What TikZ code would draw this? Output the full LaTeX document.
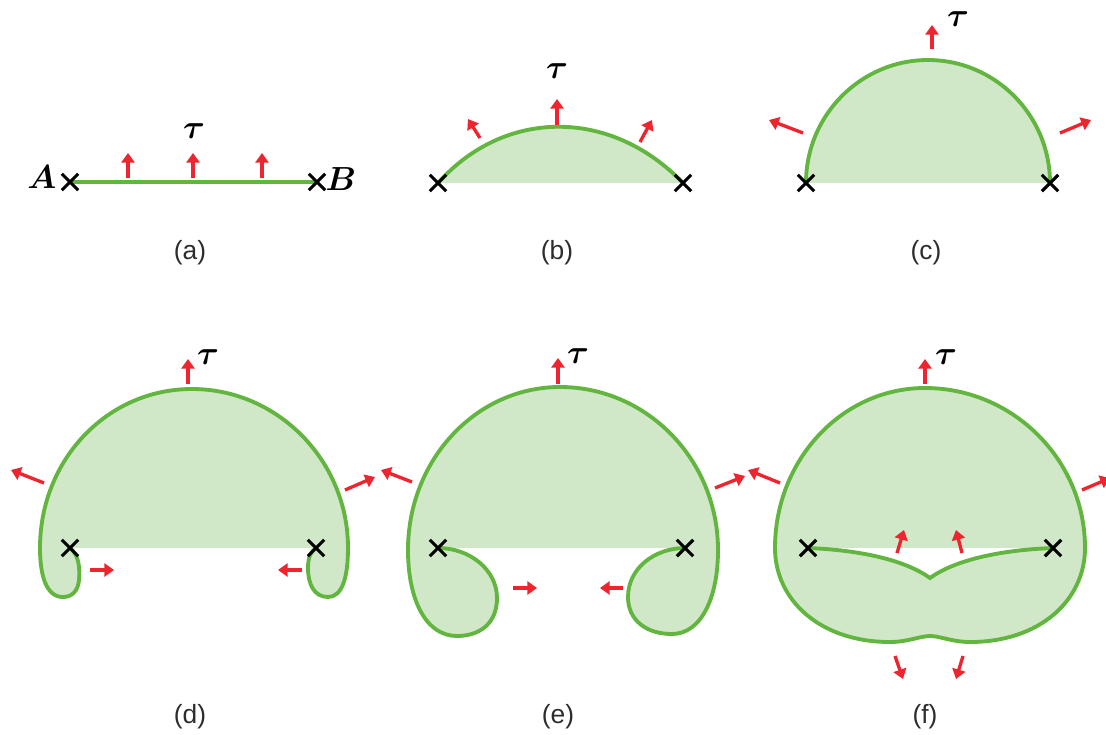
\RequirePackage{fix-cm}
\documentclass[tikz,border=0pt]{standalone}
\usepackage{amsmath,amssymb}
\usepackage{fontspec}
\setsansfont{Liberation Sans}
\usepackage{tikz}
\usetikzlibrary{arrows,arrows.meta,shapes.misc}

\definecolor{filmgreen}{RGB}{98,182,64}
\definecolor{filmfill}{RGB}{208,232,200}
\definecolor{forcered}{RGB}{238,36,46}
\definecolor{captext}{RGB}{45,45,45}

\tikzset{
  film/.style={draw=filmgreen, line width=2.2pt, fill=filmfill},
  force/.style={draw=forcered, line width=1.9pt, -{Triangle[length=5.5pt,width=7.5pt]}},
  pinpt/.style={cross out, draw=black, line width=1.8pt, minimum size=7.5pt, inner sep=0pt},
  tag/.style={text=captext, font=\sffamily\fontsize{15}{18}\selectfont},
  sym/.style={font=\fontsize{19}{22}\selectfont}
}

\begin{document}
\begin{tikzpicture}[x=0.02cm,y=-0.02cm]
\useasboundingbox (0,0) rectangle (1106,734);

% (a) flat film
\coordinate (aL) at (70,182);
\coordinate (aR) at (317,182);
\draw[filmgreen, line width=2.8pt] (aL) -- (aR);
\node[pinpt] (aA) at (aL) {};
\node[pinpt] (aB) at (aR) {};
\node[sym] (labA) at (42,177) {$\boldsymbol{A}$};
\node[sym] (labB) at (341,179) {$\boldsymbol{B}$};
\node[sym] (tauA) at (194,131) {$\boldsymbol{\tau}$};
\draw[force] (128,178) -- (128,153);
\draw[force] (193,178) -- (193,153);
\draw[force] (262,178) -- (262,153);
\node[tag] (capA) at (190,253) {(a)};

% (b) shallow cap
\coordinate (bL) at (438,183);
\coordinate (bR) at (683,183);
\draw[film] (bL) .. controls (505,108) and (611,108) .. (bR);
\node[pinpt] (bA) at (bL) {};
\node[pinpt] (bB) at (bR) {};
\node[sym] (tauB) at (557,71) {$\boldsymbol{\tau}$};
\draw[force] (480,138) -- (468,119);
\draw[force] (557,125) -- (557,99);
\draw[force] (640,142) -- (652,120);
\node[tag] (capB) at (557,253) {(b)};

% (c) half circle
\coordinate (cL) at (806,183);
\coordinate (cR) at (1050,183);
\draw[film] (cL) .. controls (806,115) and (861,60) .. (928,60)
  .. controls (995,60) and (1050,115) .. (cR);
\node[pinpt] (cA) at (cL) {};
\node[pinpt] (cB) at (cR) {};
\node[sym] (tauC) at (958,19) {$\boldsymbol{\tau}$};
\draw[force] (803,133) -- (769,120);
\draw[force] (932,49) -- (932,25);
\draw[force] (1060,133) -- (1091,120);
\node[tag] (capC) at (926,253) {(c)};

% (d) small lobes
\coordinate (dL) at (70,548);
\coordinate (dR) at (316,548);
\draw[film] (dL) .. controls (79,555) and (80,568) .. (79,580)
  .. controls (78,591) and (72,597) .. (63,597)
  .. controls (46,597) and (40,575) .. (40,548)
  .. controls (40,460) and (107,389) .. (192,389)
  .. controls (277,389) and (348,460) .. (348,548)
  .. controls (348,578) and (342,597) .. (328,597)
  .. controls (314,597) and (308,584) .. (308,568)
  .. controls (308,557) and (311,551) .. (dR);
\node[pinpt] (dA) at (dL) {};
\node[pinpt] (dB) at (dR) {};
\node[sym] (tauD) at (208,357) {$\boldsymbol{\tau}$};
\draw[force] (188,384) -- (188,359);
\draw[force] (44,483) -- (11,470);
\draw[force] (345,490) -- (375,477);
\draw[force] (90,570) -- (114,570);
\draw[force] (302,570) -- (278,570);
\node[tag] (capD) at (190,717) {(d)};

% (e) curled lobes
\coordinate (eL) at (438,548);
\coordinate (eR) at (685,548);
\draw[film] (eL) .. controls (470,548) and (497,570) .. (497,598)
  .. controls (497,624) and (479,636) .. (457,636)
  .. controls (426,636) and (408,600) .. (408,550)
  .. controls (408,460) and (476,387) .. (560,387)
  .. controls (647,387) and (718,460) .. (718,550)
  .. controls (718,600) and (700,634) .. (672,634)
  .. controls (646,634) and (628,620) .. (628,597)
  .. controls (628,568) and (655,548) .. (eR);
\node[pinpt] (eA) at (eL) {};
\node[pinpt] (eB) at (eR) {};
\node[sym] (tauE) at (578,356) {$\boldsymbol{\tau}$};
\draw[force] (558,384) -- (558,358);
\draw[force] (412,482) -- (381,470);
\draw[force] (715,488) -- (745,476);
\draw[force] (513,588) -- (537,588);
\draw[force] (623,588) -- (600,588);
\node[tag] (capE) at (558,717) {(e)};

% (f) closed bubble
\coordinate (fL) at (808,548);
\coordinate (fR) at (1053,548);
\draw[film] (925,388) .. controls (1013,388) and (1085,460) .. (1085,548)
  .. controls (1085,600) and (1040,642) .. (970,642)
  .. controls (952,642) and (940,636) .. (930,636)
  .. controls (920,636) and (908,642) .. (890,642)
  .. controls (820,642) and (775,600) .. (775,548)
  .. controls (775,460) and (842,388) .. (925,388) -- cycle;
\draw[film, fill=white] (fL) .. controls (860,550) and (905,560) .. (930,578)
  .. controls (955,560) and (1000,550) .. (fR);
\node[pinpt] (fA) at (fL) {};
\node[pinpt] (fB) at (fR) {};
\node[sym] (tauF) at (946,357) {$\boldsymbol{\tau}$};
\draw[force] (925,384) -- (925,359);
\draw[force] (780,483) -- (748,470);
\draw[force] (1082,490) -- (1110,478);
\draw[force] (897,553) -- (904,530);
\draw[force] (962,553) -- (956,530);
\draw[force] (895,656) -- (903,679);
\draw[force] (963,656) -- (956,679);
\node[tag] (capF) at (925,717) {(f)};
\end{tikzpicture}
\end{document}
